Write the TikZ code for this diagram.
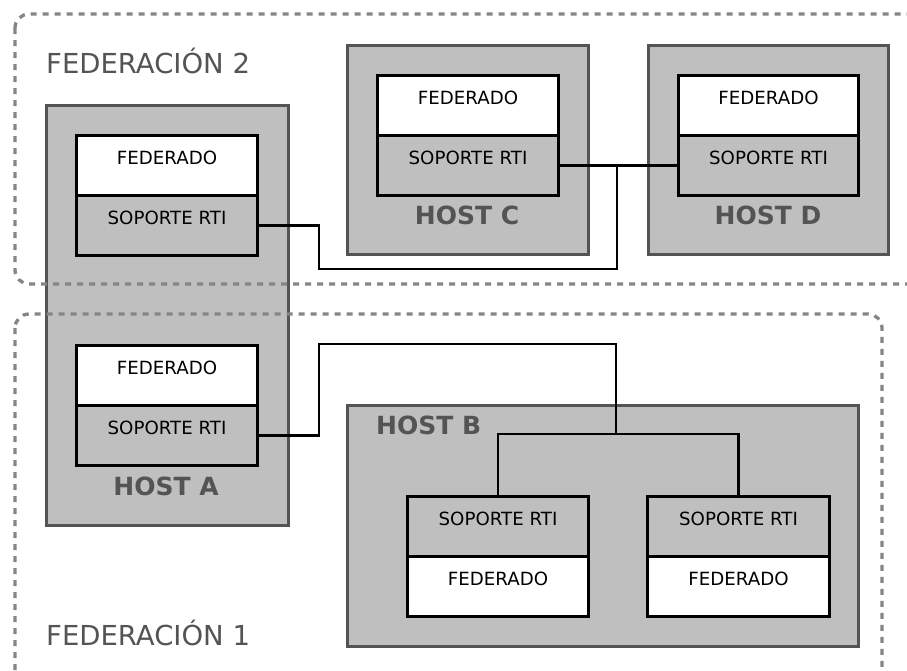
\documentclass[tikz,border=0pt]{standalone}
\usepackage{fontspec}
\setmainfont{DejaVu Sans}
\begin{document}
\begin{tikzpicture}[x=1pt,y=-1pt,
  fedline/.style={draw=black!48, line width=3.3pt, dash pattern=on 6pt off 6pt, rounded corners=14pt},
  fedlabel/.style={anchor=base west, inner sep=0pt, text=black!67, font=\fontsize{27.5}{32}\selectfont},
  hostbox/.style={draw=black!67, fill=black!25, line width=2.5pt, anchor=north west, inner sep=0pt},
  hostlabel/.style={anchor=base, inner sep=0pt, text=black!67, font=\bfseries\fontsize{25}{29}\selectfont},
  part/.style={draw=black, line width=3pt, anchor=north west, inner sep=0pt,
    minimum width=181pt, text height=29pt, text depth=31pt, font=\fontsize{18.2}{21}\selectfont},
  fedpart/.style={part, fill=white},
  rtipart/.style={part, fill=black!25},
  link/.style={draw=black, line width=2.5pt}
]
\useasboundingbox (0,0) rectangle (907,670);
\fill[white] (0,0) rectangle (907,670);

% hosts
\node[hostbox, minimum width=242pt, minimum height=420pt] (hA) at (45,104) {};
\node[hostbox, minimum width=241pt, minimum height=209pt] (hC) at (346,44) {};
\node[hostbox, minimum width=240pt, minimum height=209pt] (hD) at (647,44) {};
\node[hostbox, minimum width=511pt, minimum height=241pt] (hB) at (346,404) {};

% federation frames, drawn over the host boxes
\draw[fedline] (15,314) rectangle (882,700);
\draw[fedline] (15,14) rectangle (930,284);

% federates and their RTI support, host A
\node[fedpart] (a1f) at (75,134) {FEDERADO};
\node[rtipart] (a1s) at (75,194) {SOPORTE RTI};
\node[fedpart] (a2f) at (75,344) {FEDERADO};
\node[rtipart] (a2s) at (75,404) {SOPORTE RTI};

% hosts C and D
\node[fedpart] (cf) at (376,74) {FEDERADO};
\node[rtipart] (cs) at (376,134) {SOPORTE RTI};
\node[fedpart, minimum width=180pt] (df) at (677,74) {FEDERADO};
\node[rtipart, minimum width=180pt] (ds) at (677,134) {SOPORTE RTI};

% host B
\node[rtipart] (bls) at (406,495) {SOPORTE RTI};
\node[fedpart] (blf) at (406,555) {FEDERADO};
\node[rtipart, minimum width=182pt] (brs) at (646,495) {SOPORTE RTI};
\node[fedpart, minimum width=182pt] (brf) at (646,555) {FEDERADO};

% labels
\node[fedlabel] (f2) at (46,73) {FEDERACIÓN 2};
\node[fedlabel] (f1) at (46,645) {FEDERACIÓN 1};
\node[hostlabel] (lA) at (166,495) {HOST A};
\node[hostlabel] (lC) at (467,224) {HOST C};
\node[hostlabel] (lD) at (768,224) {HOST D};
\node[hostlabel, anchor=base west] (lB) at (376,434) {HOST B};

% federation 2 links
\coordinate (j2) at (617,163.5);
\coordinate (j2low) at (617,269);
\draw[link] (cs.east) -- (ds.west);
\draw[link] (a1s.east) -- ++(60,0) |- (j2low) -- (j2);

% federation 1 links
\coordinate (j1top) at (616,344);
\coordinate (j1bus) at (616,434);
\draw[link] (a2s.east) -- ++(60,0) |- (j1top) -- (j1bus);
\draw[link] (bls.north) |- (j1bus) -| (brs.north);
\end{tikzpicture}
\end{document}
